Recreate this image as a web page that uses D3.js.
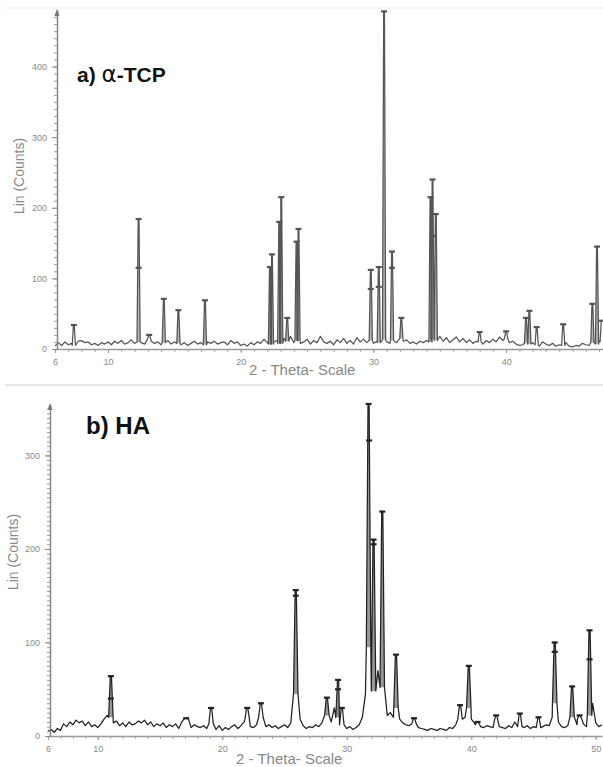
<!DOCTYPE html>
<html>
<head>
<meta charset="utf-8">
<script src="https://cdn.jsdelivr.net/npm/d3@7"></script>
<style>
	body { margin: 0; background: #fff; }
	svg { display: block; }
	text { font-family: 'Liberation Sans', Arial, sans-serif; }
</style>
</head>
<body>
<div id="chart"></div>
<script>
// a) alpha-TCP : background counts every 0.25 deg from 6.0 to 47.25
const tcpBackground = [
	4, 9, 5, 10, 6, 8, 5, 11,
	12, 9, 10, 6, 8, 5, 9, 7,
	10, 6, 11, 8, 12, 7, 9, 13,
	8, 10, 9, 7, 14, 11, 8, 10,
	6, 9, 12, 7, 10, 8, 6, 9,
	5, 8, 11, 7, 9, 6, 10, 8,
	11, 7, 9, 10, 6, 12, 8, 10,
	5, 7, 4, 9, 6, 10, 8, 14,
	9, 7, 10, 12, 8, 15, 11, 18,
	9, 12, 8, 10, 14, 7, 12, 9,
	18, 10, 8, 11, 6, 13, 9, 15,
	8, 12, 7, 16, 10, 14, 9, 12,
	8, 11, 9, 13, 10, 8, 12, 9,
	15, 11, 13, 8, 10, 7, 11, 9,
	12, 10, 14, 12, 18, 11, 16, 9,
	13, 17, 10, 15, 9, 13, 8, 11,
	10, 7, 12, 9, 14, 10, 17, 12,
	15, 9, 11, 7, 5, 6, 8, 7,
	9, 6, 4, 10, 7, 5, 8, 4,
	6, 5, 9, 4, 3, 5, 4, 8,
	6, 5, 9, 7, 12, 10
]
const tcpPeakTheta = [7.42, 12.3, 13.1, 14.2, 15.3, 17.3, 22.2, 22.35, 22.9, 23.05, 23.5, 24.2, 24.35, 29.8, 30.4, 30.8, 31.4, 32.1, 34.3, 34.45, 34.7, 38.0, 40.0, 41.5, 41.75, 42.3, 44.3, 46.5, 46.85, 47.2]
const tcpPeakCounts = [34, 184, 20, 71, 55, 69, 116, 134, 180, 215, 44, 152, 170, 112, 116, 478, 138, 44, 215, 240, 191, 24, 25, 44, 54, 31, 35, 64, 145, 40]
const tcpExtraMarks = [[12.3, 115], [29.8, 85], [30.4, 88], [31.4, 115], [34.45, 160]]

// b) HA : background counts every 0.25 deg from 6.0 to 50.5
const haBackground = [
	5, 7, 4, 8, 6, 13, 10, 15,
	12, 17, 14, 16, 11, 15, 10, 12,
	9, 13, 18, 22, 20, 14, 16, 11,
	14, 10, 15, 12, 13, 16, 14, 17,
	12, 15, 10, 13, 11, 14, 9, 12,
	10, 13, 8, 15, 18, 11, 9, 12,
	10, 9, 11, 8, 13, 10, 7, 11,
	6, 9, 7, 10, 12, 8, 11, 15,
	18, 10, 9, 12, 20, 11, 10, 12,
	9, 11, 8, 10, 12, 9, 14, 30,
	45, 18, 11, 8, 10, 9, 12, 10,
	14, 10, 22, 15, 30, 20, 12, 9,
	8, 10, 7, 9, 12, 20, 45, 95,
	80, 48, 70, 52, 30, 22, 25, 20,
	30, 18, 14, 12, 11, 10, 13, 9,
	8, 7, 6, 8, 7, 6, 8, 7,
	6, 9, 8, 12, 18, 14, 20, 30,
	18, 14, 12, 10, 9, 11, 10, 9,
	14, 10, 9, 8, 11, 9, 15, 12,
	10, 9, 11, 8, 10, 13, 9, 10,
	12, 11, 20, 35, 15, 10, 9, 11,
	20, 25, 12, 18, 13, 10, 22, 35,
	14, 10, 12
]
const haPeakTheta = [11.05, 17.1, 19.1, 22.0, 23.1, 25.9, 28.4, 29.3, 29.6, 31.75, 32.15, 32.85, 33.95, 35.4, 39.1, 39.8, 40.5, 42.0, 43.9, 45.4, 46.7, 48.1, 48.7, 49.5]
const haPeakCounts = [64, 19, 30, 30, 35, 156, 41, 60, 30, 355, 210, 240, 87, 19, 33, 75, 15, 22, 24, 20, 100, 53, 22, 113]
const haExtraMarks = [[31.8, 316], [32.15, 205], [25.9, 150], [46.7, 90], [49.5, 82], [29.3, 50], [11.05, 40]]

const width = 603
const height = 767

const svg = d3.select('#chart').append('svg')
	.attr('width', width)
	.attr('height', height)

// faint borders of the two scanned images
svg.append('line').attr('x1', 5).attr('x2', width).attr('y1', 8).attr('y2', 8)
	.attr('stroke', '#eee')
svg.append('line').attr('x1', 5).attr('x2', width).attr('y1', 385).attr('y2', 385)
	.attr('stroke', '#ddd').attr('stroke-width', 1.5)

function drawPanel(cfg) {
	const x = d3.scaleLinear().domain(cfg.xDomain).range(cfg.xRange)
	const y = d3.scaleLinear().domain(cfg.yDomain).range(cfg.yRange)
	const g = svg.append('g')

	const grid = cfg.background.map((v, i) => ({ theta: 6 + i * 0.25, count: v }))
	const bgAt = t => grid[Math.max(0, Math.min(grid.length - 1, Math.round((t - 6) / 0.25)))].count

	const peaks = cfg.peakTheta.map((t, i) => ({ theta: t, count: cfg.peakCounts[i] }))

	// merge background and peaks into one trace
	let pts = grid.filter(p => !peaks.some(k => Math.abs(k.theta - p.theta) < cfg.hw))
	peaks.forEach(k => {
		const base = bgAt(k.theta)
		pts.push({ theta: k.theta - cfg.hw, count: base })
		pts.push({ theta: k.theta - cfg.hw * 0.25, count: k.count })
		pts.push({ theta: k.theta + cfg.hw * 0.25, count: k.count })
		pts.push({ theta: k.theta + cfg.hw, count: base })
	})
	pts.sort((a, b) => a.theta - b.theta)
	pts = pts.filter(p => p.theta <= cfg.xDomain[1])

	// peak fill
	g.selectAll('path.peak')
		.data(peaks.filter(k => k.count > 40))
		.enter()
		.append('path')
		.attr('class', 'peak')
		.attr('d', k => {
			const base = bgAt(k.theta)
			return d3.line()([
				[x(k.theta - cfg.hw), y(base)],
				[x(k.theta - cfg.hw * 0.25), y(k.count)],
				[x(k.theta + cfg.hw * 0.25), y(k.count)],
				[x(k.theta + cfg.hw), y(base)]
			])
		})
		.attr('fill', cfg.fill)
		.attr('stroke', 'none')

	// x axis
	g.append('g')
		.attr('transform', `translate(0,${y(0)})`)
		.call(d3.axisBottom(x).tickValues(d3.range(6, cfg.xDomain[1], 1)).tickSize(3).tickFormat(''))
		.call(a => a.select('.domain').remove())
		.call(a => a.selectAll('line').attr('stroke', '#aaa'))
	g.append('g')
		.attr('transform', `translate(0,${y(0)})`)
		.call(d3.axisBottom(x).tickValues(cfg.xTicks).tickSize(4).tickSizeOuter(0).tickPadding(6))
		.call(a => a.select('.domain').attr('stroke', '#999').attr('stroke-width', 1.5))
		.call(a => a.selectAll('line').attr('stroke', '#999'))
		.call(a => a.selectAll('text').attr('fill', '#888').style('font-size', '9px'))

	// trace
	g.append('path')
		.datum(pts)
		.attr('d', d3.line().x(d => x(d.theta)).y(d => y(d.count)))
		.attr('fill', 'none')
		.attr('stroke', cfg.stroke)
		.attr('stroke-width', cfg.strokeWidth)
		.attr('stroke-linejoin', 'round')

	// peak markers
	const marks = peaks.map(k => [k.theta, k.count]).concat(cfg.extraMarks)
	g.selectAll('line.mark')
		.data(marks)
		.enter()
		.append('line')
		.attr('class', 'mark')
		.attr('x1', d => x(d[0]) - 3)
		.attr('x2', d => x(d[0]) + 3)
		.attr('y1', d => y(d[1]))
		.attr('y2', d => y(d[1]))
		.attr('stroke', cfg.markColor)
		.attr('stroke-width', 2.2)

	// y axis
	const yAxisX = cfg.yAxisX
	g.append('g')
		.attr('transform', `translate(${yAxisX},0)`)
		.call(d3.axisLeft(y).tickValues(d3.range(0, cfg.yDomain[1], cfg.minor)).tickSize(3).tickFormat(''))
		.call(a => a.select('.domain').remove())
		.call(a => a.selectAll('line').attr('stroke', '#999'))
	g.append('g')
		.attr('transform', `translate(${yAxisX},0)`)
		.call(d3.axisLeft(y).tickValues(cfg.yTicks).tickSize(5).tickSizeOuter(0).tickPadding(5))
		.call(a => a.select('.domain').attr('stroke', '#888').attr('stroke-width', 1.5))
		.call(a => a.selectAll('line').attr('stroke', '#888'))
		.call(a => a.selectAll('text').attr('fill', '#888').style('font-size', '9px'))

	// arrow head
	const top = cfg.yRange[1]
	g.append('path')
		.attr('d', `M${yAxisX - 2.5},${top + 6} L${yAxisX},${top - 1} L${yAxisX + 2.5},${top + 6} Z`)
		.attr('fill', '#777')

	// axis titles
	g.append('text')
		.attr('transform', `translate(${cfg.yLabelPos[0]},${cfg.yLabelPos[1]}) rotate(-90)`)
		.attr('text-anchor', 'middle')
		.style('font-size', '14px')
		.attr('fill', '#888')
		.text('Lin (Counts)')

	g.append('text')
		.attr('x', cfg.xLabelPos[0])
		.attr('y', cfg.xLabelPos[1])
		.style('font-size', cfg.xLabelSize)
		.attr('fill', '#888')
		.text('2 - Theta- Scale')
}

drawPanel({
	background: tcpBackground,
	peakTheta: tcpPeakTheta,
	peakCounts: tcpPeakCounts,
	extraMarks: tcpExtraMarks,
	xDomain: [6, 47.3],
	xRange: [55, 603],
	yDomain: [0, 480],
	yRange: [349, 10],
	xTicks: [6, 10, 20, 30, 40],
	yTicks: [0, 100, 200, 300, 400],
	minor: 10,
	hw: 0.12,
	yAxisX: 57,
	stroke: '#555',
	strokeWidth: 1.25,
	fill: '#b5b5b5',
	markColor: '#555',
	yLabelPos: [24, 176],
	xLabelPos: [249, 375],
	xLabelSize: '15px'
})

drawPanel({
	background: haBackground,
	peakTheta: haPeakTheta,
	peakCounts: haPeakCounts,
	extraMarks: haExtraMarks,
	xDomain: [6, 50.5],
	xRange: [48, 602],
	yDomain: [0, 355],
	yRange: [736, 404],
	xTicks: [6, 10, 20, 30, 40, 50],
	yTicks: [0, 100, 200, 300],
	minor: 5,
	hw: 0.18,
	yAxisX: 50,
	stroke: '#222',
	strokeWidth: 1.25,
	fill: '#999',
	markColor: '#222',
	yLabelPos: [18, 552],
	xLabelPos: [236, 764],
	xLabelSize: '15px'
})

// panel titles
const t1 = svg.append('text')
	.attr('x', 77)
	.attr('y', 82)
	.style('font-size', '21px')
	.style('font-weight', 'bold')
	.attr('fill', '#111')
t1.append('tspan').text('a) ')
t1.append('tspan').style('font-weight', 'normal').style('font-family', 'DejaVu Sans').style('font-size', '23px').text('α')
t1.append('tspan').text('-TCP')

svg.append('text')
	.attr('x', 86)
	.attr('y', 434)
	.style('font-size', '24px')
	.style('font-weight', 'bold')
	.attr('fill', '#111')
	.text('b) HA')
</script>
</body>
</html>
